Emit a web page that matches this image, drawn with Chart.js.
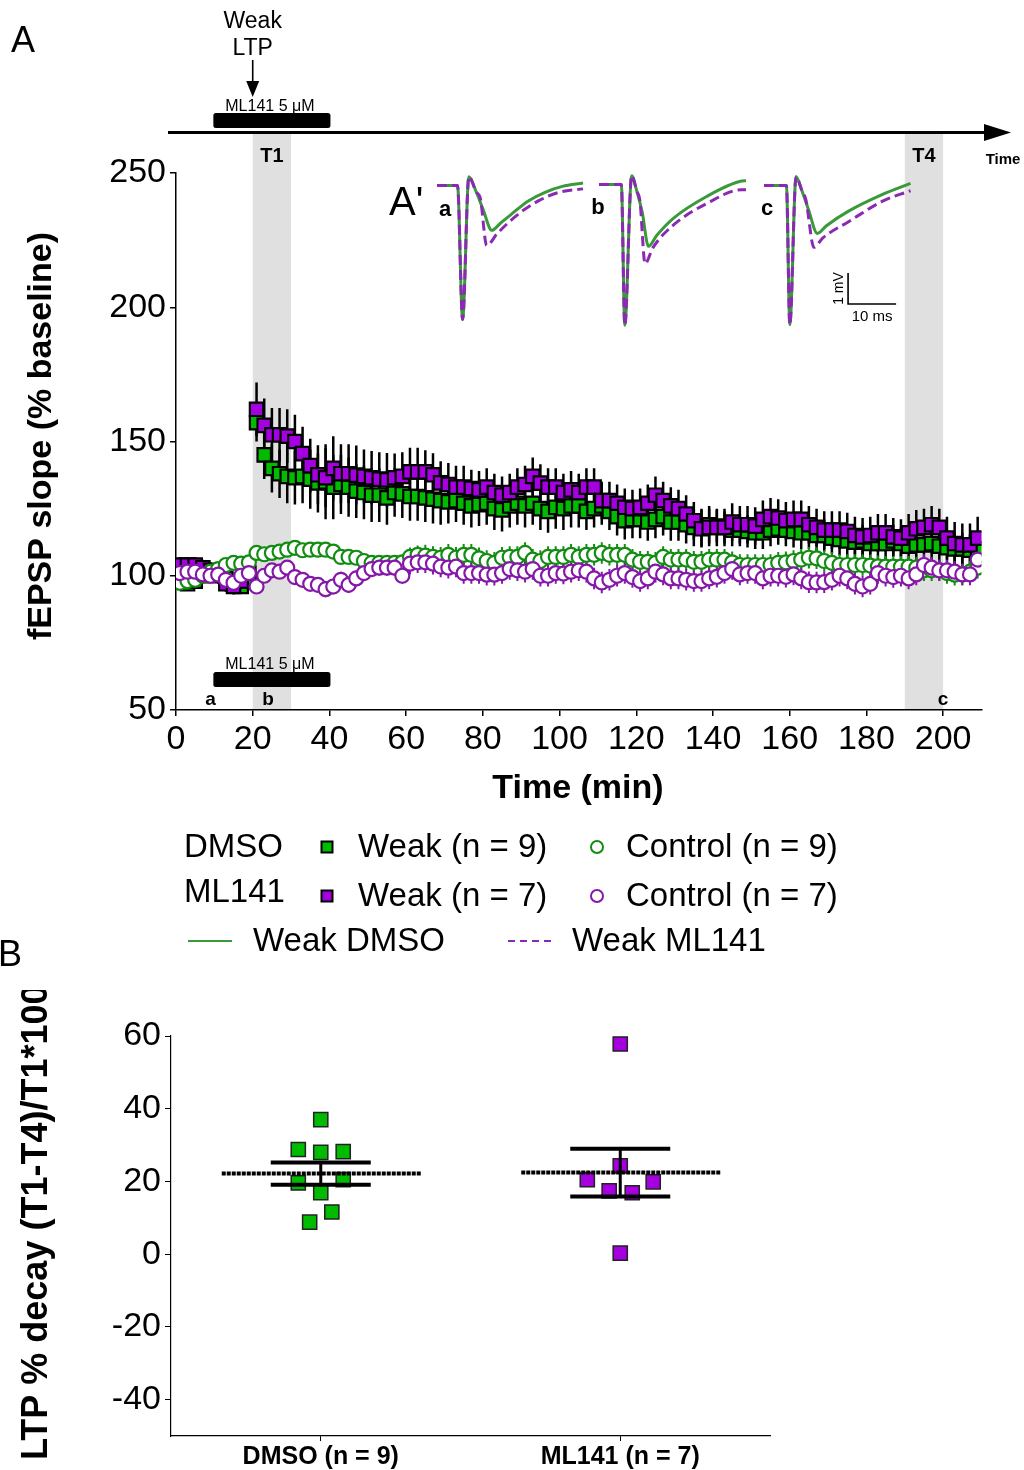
<!DOCTYPE html>
<html><head><meta charset="utf-8">
<script src="https://cdn.jsdelivr.net/npm/chart.js@4.4.0/dist/chart.umd.min.js"></script>
<style>
html,body{margin:0;padding:0;background:#fff;}
#wrap{position:relative;width:1024px;height:1470px;overflow:hidden;background:#fff;}
canvas{position:absolute;display:block;}
</style></head><body>
<div id="wrap">
<canvas id="cA" width="1024" height="990" style="left:0;top:0"></canvas>
<canvas id="tA" width="147" height="164" style="left:437px;top:170px"></canvas>
<canvas id="tB" width="147" height="164" style="left:599px;top:169px"></canvas>
<canvas id="tC" width="147" height="164" style="left:764px;top:170px"></canvas>
<canvas id="cB" width="1024" height="480" style="left:0;top:990px"></canvas>
</div>
<script>
// ---------------- DATA: panel A (time course) ----------------
const timeMin = [1,3,5,7,9,11,13,15,17,19,21,23,25,27,29,31,33,35,37,39,41,43,45,47,49,51,53,55,57,59,61,63,65,67,69,71,73,75,77,79,81,83,85,87,89,91,93,95,97,99,101,103,105,107,109,111,113,115,117,119,121,123,125,127,129,131,133,135,137,139,141,143,145,147,149,151,153,155,157,159,161,163,165,167,169,171,173,175,177,179,181,183,185,187,189,191,193,195,197,199,201,203,205,207,209];
const weakDMSO = [98,97,98,100,101,101,99,97,96,99,
157,145,140,138,137,136.5,137,136,134.6,135,
133,134,133,131.5,131,130,130,129,131,130.5,
129.5,129.5,129,128.5,128,127.5,128,127,126,126.5,
127,125,124.5,126,127,126,127,125,124,125.5,
125,126,126,124,125,126,124,122,120.5,121,
121,120,121,122,120,120,119,118,118,119,
118.5,118,117,117,116.5,116,116,117,117.5,117,
116.5,116,116,115,115,114,113.5,113,112.5,113,
112,112,112,113,112,111,111.5,111.5,112,111,
110.5,110,110,109.5,110];
const semWeakDMSO = [2,2,2,2,2,2,2,2,2,2,
7,9,9,9,10,10,10,11,11,14,
12,11,11,10,10,10,10,10,9,9,
9,9,9,9,9,8,8,8,8,8,
8,8,8,8,8,8,8,8,8,8,
8,8,8,7,7,7,7,7,7,7,
7,7,7,7,7,7,7,7,7,7,
6,6,6,6,6,6,6,6,6,6,
6,6,6,6,6,6,6,6,6,6,
6,6,6,6,6,6,6,6,6,6,
6,6,6,6,6];
const weakML141 = [104,104,104,103,102,100,97,96,98,101,
162,156,152.5,152.5,152,150,145.5,141,137.6,136.5,
140,138,138,137.5,137,136.5,136,135.7,136.5,137,
138.7,138.7,138.7,137.6,134.6,134,133,133,132.5,132,
133,131,130,131,133,134,137,134.5,133,133,
131,132,131,133,133,128,128,127,125.5,125,
125.5,127,130,128,126,125,123,120.5,117.5,118,
118,118,120,119,119,118.5,121,122,121.5,120.5,
121,121,119,118,117,117,117,116.5,115,114.5,
115,116,116,114.5,114,116,117.5,118,119,118,
114,112,111.5,111.5,114];
const semWeakML141 = [3,3,3,3,3,3,3,3,3,3,
10,10,10,10,10,10,10,10,11,11,
12,11,11,11,10,10,10,10,9,9,
9,9,8,8,8,8,8,8,7,7,
7,7,7,7,7,7,7,7,7,7,
7,7,7,7,7,7,7,7,7,7,
7,7,7,7,7,7,7,7,7,7,
7,7,7,7,7,7,7,7,7,7,
7,7,7,7,7,7,7,7,7,7,
7,7,7,7,7,7,7,7,7,7,
8,8,8,8,8];
const ctrlDMSO = [97.4,98,98.5,100,101.5,102.5,104,104.8,104.5,105,
108.5,108,108.5,109,109.7,110.4,109.5,109.7,109.7,109.7,
109,107,107,106.7,105.5,104.8,104.8,104.8,104.8,105,
107,107.8,107.5,107,106.7,107.8,106.7,107.8,107.8,106.5,
105.5,104.8,106.7,107,107,108.5,106,105.5,107,107,
107,107.8,107,107.8,107.8,108.5,107.8,107.8,107.8,106,
105.2,105.2,104.8,107,106,106,106,105.2,105.2,106,
106,106,105,104,104,104,104,104,104.8,105,
105.5,106,106.7,106.5,105.5,104.8,104,104,104,104,
103.8,103.5,103.4,103.4,103.4,103.4,103,102,102,102,
101,100.4,100.5,101.5,103];
const semCtrlDMSO = [1.5,1.5,1.5,1.5,1.5,1.5,1.5,1.5,1.5,1.5,
2,2,2,2,2,2,2,2,2,2,
2,2,2,2,2,2,2,2,2,2,
3.5,3.5,4,4,4,4,4,4,4,4,
4,4,4,4,4,4,4,4,4,4,
4,4,4,4,4,4,4,4,4,4,
4,4,4,4,4,4,4,4,4,4,
4,4,4,4,4,4,4,4,4,4,
4,4,4,4,4,4,4,4,4,4,
4,4,4,4,4,4,4,4,4,4,
4,4,4,4,4];
const ctrlML141 = [101,101.5,101.5,100.5,100,100.4,98.5,97.4,100,101,
96,100,102,101.5,103,99.5,98.5,97,96.6,95,
96,98.5,96.6,99,101,102.5,103,103,103,100,
104.5,105,105,104.5,103.4,103,103.4,101,101,101,
100.4,100.4,101,102.5,102,101.5,102.5,100,100,101,
100.8,101.5,102,101.5,99,97.5,98.5,100,101,99.5,
98,99,101.5,100.5,99,99,98.5,98,98,99,
99.6,101,102.5,100.5,101,101,99,100,100,99.6,
100.5,99,97.6,97.5,97.6,98.5,100,99,97,96,
97,101,100,99.5,100,99,100.5,104,103,102,
102,101.5,100.5,100.5,106];
const semCtrlML141 = [2.5,2.5,2.5,2.5,2.5,2.5,2.5,2.5,2.5,2.5,
2.5,2.5,2.5,2.5,2.5,2.5,2.5,2.5,2.5,3,
3,3,3,3,3,3,3,3,3,3,
4,4,4,4,4,4,4,4,4,4,
4,4,4,4,4,4,4,4,4,4,
4,4,4,4,4,4,4,4,4,4,
4,4,4,4,4,4,4,4,4,4,
4,4,4,4,4,4,4,4,4,4,
4,4,4,4,4,4,4,4,4,4,
4,4,4,4,4,4,4,4,4,4,
4,4,4,4,4];
const drugPeriod = [10, 40];          // ML141 5 uM application (min)
const periods = [[20,30,'T1'],[190,200,'T4']];
const tetanusTime = 20;
const sampleLabels = [['a',9],['b',24],['c',200]];
const yTicksA = [50,250,50];          // min, max, step
const xTicksA = [0,210,20];

// ---------------- DATA: sample traces (ms, mV) ----------------
const trA_ms_D = [0,4.27,5.33,6.63,8.2,9.6,11.4,13.2,15.4,19.0,22.5,26.1,30.4];
const trA_mV_D = [0,0,-4.33,0.28,-0.22,-0.78,-1.45,-1.22,-0.94,-0.50,-0.22,-0.03,0.08];
const trA_ms_M = [0,4.27,5.33,6.63,8.2,9.0,10.35,12.5,16.8,21.1,25.4,30.4];
const trA_mV_M = [0,0,-4.33,0.28,-0.22,-0.4,-1.94,-1.56,-0.94,-0.5,-0.22,-0.11];
const trB_ms_D = [0,4.65,5.37,6.8,7.9,9.0,10.3,12.0,15.35,22.5,29.7,30.6];
const trB_mV_D = [0,0,-4.55,0.28,-0.23,-0.9,-2.0,-1.65,-1.11,-0.38,0.11,0.12];
const trB_ms_M = [0,4.65,5.37,6.8,7.9,8.5,9.6,11.2,15.35,22.5,29.7,30.6];
const trB_mV_M = [0,0,-4.55,0.28,-0.23,-0.5,-2.56,-2.05,-1.33,-0.61,-0.17,-0.17];
const trC_ms_D = [0,4.67,5.375,6.67,7.9,9.3,11.1,13.0,17.6,24.8,30.5];
const trC_mV_D = [0,0,-4.5,0.28,-0.17,-0.8,-1.55,-1.3,-0.83,-0.28,0.07];
const trC_ms_M = [0,4.67,5.375,6.67,7.9,8.7,10.4,12.2,17.6,24.8,30.5];
const trC_mV_M = [0,0,-4.5,0.28,-0.17,-0.45,-2.0,-1.7,-1.17,-0.5,-0.17];
const scaleBar = {ms: 10, mV: 1, t0: 17.5, v0: -3.83};

// ---------------- DATA: panel B ----------------
const categoriesB = ['DMSO (n = 9)', 'ML141 (n = 7)'];
const decayDMSO  = [37.0, 28.8, 28.0, 28.2, 19.6, 20.5, 16.9, 11.6, 8.8];
const jitterDMSO = [0, -0.075, 0, 0.075, -0.075, 0.075, 0, 0.037, -0.037];
const decayML141  = [57.8, 24.3, 20.5, 19.9, 17.4, 16.9, 0.3];
const jitterML141 = [0, 0, -0.11, 0.11, -0.037, 0.04, 0];
const yTicksB = [-50, 60, 20];

// ---------------- styles ----------------
const FONT = "'Liberation Sans', Arial, Helvetica, sans-serif";
const GREEN_FILL = '#00bb00', PURPLE_FILL = '#a400e0';
const GREEN_LINE = '#128c12', PURPLE_LINE = '#8518a8';
const TRACE_G = '#3a9a3a', TRACE_P = '#8a2ab4';
Chart.defaults.font.family = FONT;
Chart.defaults.color = '#000';
Chart.defaults.animation = false;

function xy(xs, ys){ return xs.map((v,i)=>({x:v, y:ys[i]})); }
function mean(a){ return a.reduce((s,v)=>s+v,0)/a.length; }
function sem(a){ const m=mean(a); const v=a.reduce((s,x)=>s+(x-m)*(x-m),0)/(a.length-1); return Math.sqrt(v/a.length); }

function txt(ctx, s, x, y, font, align, base){
  ctx.font = font; ctx.textAlign = align||'left'; ctx.textBaseline = base||'alphabetic'; ctx.fillText(s, x, y);
}

// ---------------- Panel A ----------------
const errBars = {
  id:'errBars',
  beforeDatasetsDraw(chart){
    const {ctx, scales:{x, y}} = chart;
    const specs = [[weakDMSO, semWeakDMSO, '#000', 2.5],[weakML141, semWeakML141, '#000', 2.5],
                   [ctrlDMSO, semCtrlDMSO, GREEN_LINE, 2],[ctrlML141, semCtrlML141, PURPLE_LINE, 2]];
    ctx.save();
    specs.forEach(([vals, sems, col, lw])=>{
      ctx.strokeStyle = col; ctx.lineWidth = lw; ctx.beginPath();
      vals.forEach((v,i)=>{
        const px = x.getPixelForValue(timeMin[i]);
        ctx.moveTo(px, y.getPixelForValue(v - sems[i]));
        ctx.lineTo(px, y.getPixelForValue(v + sems[i]));
      });
      ctx.stroke();
    });
    ctx.restore();
  }
};

const panelA = {
  id:'panelA',
  beforeDraw(chart){
    const {ctx, scales:{x, y}} = chart;
    ctx.save();
    ctx.fillStyle = '#fff'; ctx.fillRect(0,0,chart.width,chart.height);
    ctx.fillStyle = '#e0e0e0';
    periods.forEach(([a,b])=>{
      const x0 = x.getPixelForValue(a), x1 = x.getPixelForValue(b);
      ctx.fillRect(x0, 134, x1-x0, y.bottom-134);
    });
    ctx.restore();
  },
  afterDraw(chart){
    const {ctx, scales:{x, y}} = chart;
    ctx.save();
    ctx.fillStyle = '#000'; ctx.strokeStyle = '#000';
    // time arrow
    ctx.lineWidth = 3; ctx.beginPath(); ctx.moveTo(168,132.5); ctx.lineTo(988,132.5); ctx.stroke();
    ctx.beginPath(); ctx.moveTo(984,124); ctx.lineTo(1011,132.5); ctx.lineTo(984,141); ctx.closePath(); ctx.fill();
    txt(ctx,'Time',1003,164,'bold 15px '+FONT,'center');
    // drug bars
    const d0 = x.getPixelForValue(drugPeriod[0]), d1 = x.getPixelForValue(drugPeriod[1]);
    const dc = x.getPixelForValue((drugPeriod[0]+drugPeriod[1])/2);
    [[113,111],[672,669]].forEach(([top,base])=>{
      ctx.beginPath(); ctx.roundRect(d0-1, top, d1-d0+2, 15, 2.5); ctx.fill();
      txt(ctx,'ML141 5 \u03bcM',dc-2,base,'16px '+FONT,'center');
    });
    // tetanus arrow
    const ax = x.getPixelForValue(tetanusTime);
    ctx.lineWidth = 1.6; ctx.beginPath(); ctx.moveTo(ax,60); ctx.lineTo(ax,84); ctx.stroke();
    ctx.beginPath(); ctx.moveTo(ax-6.5,81); ctx.lineTo(ax+6.5,81); ctx.lineTo(ax,97); ctx.closePath(); ctx.fill();
    txt(ctx,'Weak',ax,28,'23px '+FONT,'center');
    txt(ctx,'LTP',ax,55,'23px '+FONT,'center');
    // period labels
    periods.forEach(([a,b,l])=>{ txt(ctx,l,x.getPixelForValue((a+b)/2),162,'bold 20px '+FONT,'center'); });
    // sample labels bottom
    sampleLabels.forEach(([l,t])=>{ txt(ctx,l,x.getPixelForValue(t),705,'bold 19px '+FONT,'center'); });
    // panel letters
    txt(ctx,'A',11,52,'36px '+FONT);
    txt(ctx,'B',-2,966,'36px '+FONT);
    txt(ctx,"A'",389,215,'40px '+FONT);
    txt(ctx,'a',445,216,'bold 22px '+FONT,'center');
    txt(ctx,'b',598,214,'bold 22px '+FONT,'center');
    txt(ctx,'c',767,215,'bold 22px '+FONT,'center');
    // axis titles
    txt(ctx,'Time (min)',578,798,'bold 34px '+FONT,'center');
    ctx.save(); ctx.translate(51,436); ctx.rotate(-Math.PI/2);
    txt(ctx,'fEPSP slope (% baseline)',0,0,'bold 34px '+FONT,'center'); ctx.restore();
    // legend
    const LF = '33px '+FONT;
    const sq = (cx,cy,col)=>{ ctx.fillStyle=col; ctx.fillRect(cx-5.5,cy-5.5,11,11); ctx.lineWidth=2; ctx.strokeStyle='#000'; ctx.strokeRect(cx-5.5,cy-5.5,11,11); ctx.fillStyle='#000'; };
    const ci = (cx,cy,col)=>{ ctx.beginPath(); ctx.arc(cx,cy,6,0,Math.PI*2); ctx.fillStyle='#fff'; ctx.fill(); ctx.lineWidth=2; ctx.strokeStyle=col; ctx.stroke(); ctx.fillStyle='#000'; };
    txt(ctx,'DMSO',184,848,LF,'left','middle');
    sq(327,847,GREEN_FILL); txt(ctx,'Weak (n = 9)',358,848,LF,'left','middle');
    ci(597,847,GREEN_LINE); txt(ctx,'Control (n = 9)',626,848,LF,'left','middle');
    txt(ctx,'ML141',184,893,LF,'left','middle');
    sq(327,896,PURPLE_FILL); txt(ctx,'Weak (n = 7)',358,897,LF,'left','middle');
    ci(597,896,PURPLE_LINE); txt(ctx,'Control (n = 7)',626,897,LF,'left','middle');
    ctx.lineWidth=2; ctx.strokeStyle=TRACE_G; ctx.beginPath(); ctx.moveTo(188,941); ctx.lineTo(232,941); ctx.stroke();
    txt(ctx,'Weak DMSO',253,942,LF,'left','middle');
    ctx.setLineDash([7,5]); ctx.strokeStyle=TRACE_P; ctx.beginPath(); ctx.moveTo(508,941); ctx.lineTo(553,941); ctx.stroke(); ctx.setLineDash([]);
    txt(ctx,'Weak ML141',572,942,LF,'left','middle');
    ctx.restore();
  }
};

const axisCommon = (extra)=>Object.assign({
  grid:{display:true, drawOnChartArea:false, drawTicks:true, tickLength:6, color:'#000', lineWidth:1.5},
  border:{display:true, color:'#000', width:1.5}
}, extra);

new Chart(document.getElementById('cA'), {
  type:'scatter',
  data:{datasets:[
    {label:'ML141 Control (n = 7)', data:xy(timeMin, ctrlML141), order:1, pointStyle:'circle', pointRadius:7, pointBackgroundColor:'#fff', pointBorderColor:PURPLE_LINE, pointBorderWidth:2.2},
    {label:'DMSO Control (n = 9)', data:xy(timeMin, ctrlDMSO), order:2, pointStyle:'circle', pointRadius:7, pointBackgroundColor:'#fff', pointBorderColor:GREEN_LINE, pointBorderWidth:2.2},
    {label:'ML141 Weak (n = 7)', data:xy(timeMin, weakML141), order:3, pointStyle:'rect', pointRadius:9.5, pointBackgroundColor:PURPLE_FILL, pointBorderColor:'#000', pointBorderWidth:2.2},
    {label:'DMSO Weak (n = 9)', data:xy(timeMin, weakDMSO), order:4, pointStyle:'rect', pointRadius:9.5, pointBackgroundColor:GREEN_FILL, pointBorderColor:'#000', pointBorderWidth:2.2}
  ]},
  options:{
    responsive:false, animation:false, devicePixelRatio:1,
    layout:{padding:{left:0, top:173, right:42.5, bottom:0}},
    plugins:{legend:{display:false}, tooltip:{enabled:false}},
    scales:{
      x: axisCommon({type:'linear', min:xTicksA[0], max:xTicksA[1],
         ticks:{stepSize:xTicksA[2], includeBounds:false, autoSkip:false, maxRotation:0, padding:3, font:{size:34}, color:'#000'},
         afterFit:(s)=>{ s.height = 990-710; }}),
      y: axisCommon({type:'linear', min:yTicksA[0], max:yTicksA[1],
         ticks:{stepSize:yTicksA[2], padding:4, font:{size:34}, color:'#000'},
         afterFit:(s)=>{ s.width = 176; }})
    }
  },
  plugins:[panelA, errBars]
});

// ---------------- traces ----------------
function traceChart(id, msD, mvD, msM, mvM, extraPlugins){
  return new Chart(document.getElementById(id), {
    type:'line',
    data:{datasets:[
      {data:xy(msM, mvM), borderColor:TRACE_P, borderWidth:3, borderDash:[10,5], pointRadius:0, cubicInterpolationMode:'monotone', fill:false, order:1, clip:false},
      {data:xy(msD, mvD), borderColor:TRACE_G, borderWidth:3, pointRadius:0, cubicInterpolationMode:'monotone', fill:false, order:2, clip:false}
    ]},
    options:{
      responsive:false, animation:false, devicePixelRatio:1,
      layout:{padding:0},
      plugins:{legend:{display:false}, tooltip:{enabled:false}},
      scales:{ x:{type:'linear', min:0, max:30.6, display:false}, y:{type:'linear', min:-4.8, max:0.5, display:false} }
    },
    plugins: extraPlugins||[]
  });
}
const scaleBarPlugin = {
  id:'scaleBar',
  afterDraw(chart){
    const {ctx, scales:{x, y}} = chart;
    const x0 = x.getPixelForValue(scaleBar.t0), x1 = x.getPixelForValue(scaleBar.t0 + scaleBar.ms);
    const y0 = y.getPixelForValue(scaleBar.v0), y1 = y.getPixelForValue(scaleBar.v0 + scaleBar.mV);
    ctx.save(); ctx.strokeStyle='#000'; ctx.lineWidth=1.6;
    ctx.beginPath(); ctx.moveTo(x0,y1); ctx.lineTo(x0,y0); ctx.lineTo(x1,y0); ctx.stroke();
    ctx.fillStyle='#000';
    txt(ctx,'10 ms',(x0+x1)/2,y0+17,'15px '+FONT,'center');
    ctx.translate(x0-5,(y0+y1)/2); ctx.rotate(-Math.PI/2);
    txt(ctx,'1 mV',0,0,'14px '+FONT,'center');
    ctx.restore();
  }
};
traceChart('tA', trA_ms_D, trA_mV_D, trA_ms_M, trA_mV_M);
traceChart('tB', trB_ms_D, trB_mV_D, trB_ms_M, trB_mV_M);
traceChart('tC', trC_ms_D, trC_mV_D, trC_ms_M, trC_mV_M, [scaleBarPlugin]);

// ---------------- Panel B ----------------
const groupsB = [[decayDMSO, 0.5],[decayML141, 1.5]];
const panelB = {
  id:'panelB',
  beforeDraw(chart){ const c=chart.ctx; c.save(); c.fillStyle='#fff'; c.fillRect(0,0,chart.width,chart.height); c.restore(); },
  afterDatasetsDraw(chart){
    const {ctx, scales:{x, y}} = chart;
    ctx.save(); ctx.strokeStyle='#000'; ctx.fillStyle='#000';
    groupsB.forEach(([vals, cx])=>{
      const m = mean(vals), s = sem(vals);
      const px = x.getPixelForValue(cx), pm = y.getPixelForValue(m);
      const pu = y.getPixelForValue(m+s), pl = y.getPixelForValue(m-s);
      ctx.setLineDash([]); ctx.lineWidth = 3;
      ctx.beginPath(); ctx.moveTo(px,pu); ctx.lineTo(px,pl); ctx.stroke();
      ctx.lineWidth = 4;
      ctx.beginPath(); ctx.moveTo(px-50,pu); ctx.lineTo(px+50,pu); ctx.moveTo(px-50,pl); ctx.lineTo(px+50,pl); ctx.stroke();
      ctx.setLineDash([4,1]);
      ctx.beginPath(); ctx.moveTo(px-99,pm); ctx.lineTo(px+100,pm); ctx.stroke();
    });
    ctx.restore();
  },
  afterDraw(chart){
    const ctx = chart.ctx;
    ctx.save(); ctx.fillStyle='#000';
    ctx.translate(47, 470); ctx.rotate(-Math.PI/2);
    txt(ctx,'LTP % decay (T1-T4)/T1*100',0,0,'bold 36px '+FONT,'left');
    ctx.restore();
  }
};
new Chart(document.getElementById('cB'), {
  type:'scatter',
  data:{datasets:[
    {label:categoriesB[0], data:xy(jitterDMSO.map(j=>0.5+j), decayDMSO), pointStyle:'rect', pointRadius:10, pointBackgroundColor:GREEN_FILL, pointBorderColor:'#222', pointBorderWidth:1.5},
    {label:categoriesB[1], data:xy(jitterML141.map(j=>1.5+j), decayML141), pointStyle:'rect', pointRadius:10, pointBackgroundColor:PURPLE_FILL, pointBorderColor:'#222', pointBorderWidth:1.5}
  ]},
  options:{
    responsive:false, animation:false, devicePixelRatio:1,
    layout:{padding:{left:0, top:46, right:254, bottom:0}},
    plugins:{legend:{display:false}, tooltip:{enabled:false}},
    scales:{
      x: axisCommon({type:'linear', min:0, max:2,
         grid:{display:true, drawOnChartArea:false, drawTicks:true, tickLength:5, color:'#000', lineWidth:1},
         border:{display:true, color:'#000', width:1.2},
         afterBuildTicks:(s)=>{ s.ticks = categoriesB.map((c,i)=>({value:i+0.5})); },
         ticks:{autoSkip:false, maxRotation:0, padding:1, font:{size:25, weight:'bold'}, color:'#000',
                callback:(v)=>categoriesB[Math.floor(v)]},
         afterFit:(s)=>{ s.height = 34; }}),
      y: axisCommon({type:'linear', min:yTicksB[0], max:yTicksB[1],
         grid:{display:true, drawOnChartArea:false, drawTicks:true, tickLength:6, color:'#000', lineWidth:1},
         border:{display:true, color:'#000', width:1.2},
         ticks:{stepSize:yTicksB[2], includeBounds:false, padding:4, font:{size:34}, color:'#000'},
         afterFit:(s)=>{ s.width = 171; }})
    }
  },
  plugins:[panelB]
});
</script>
</body></html>
